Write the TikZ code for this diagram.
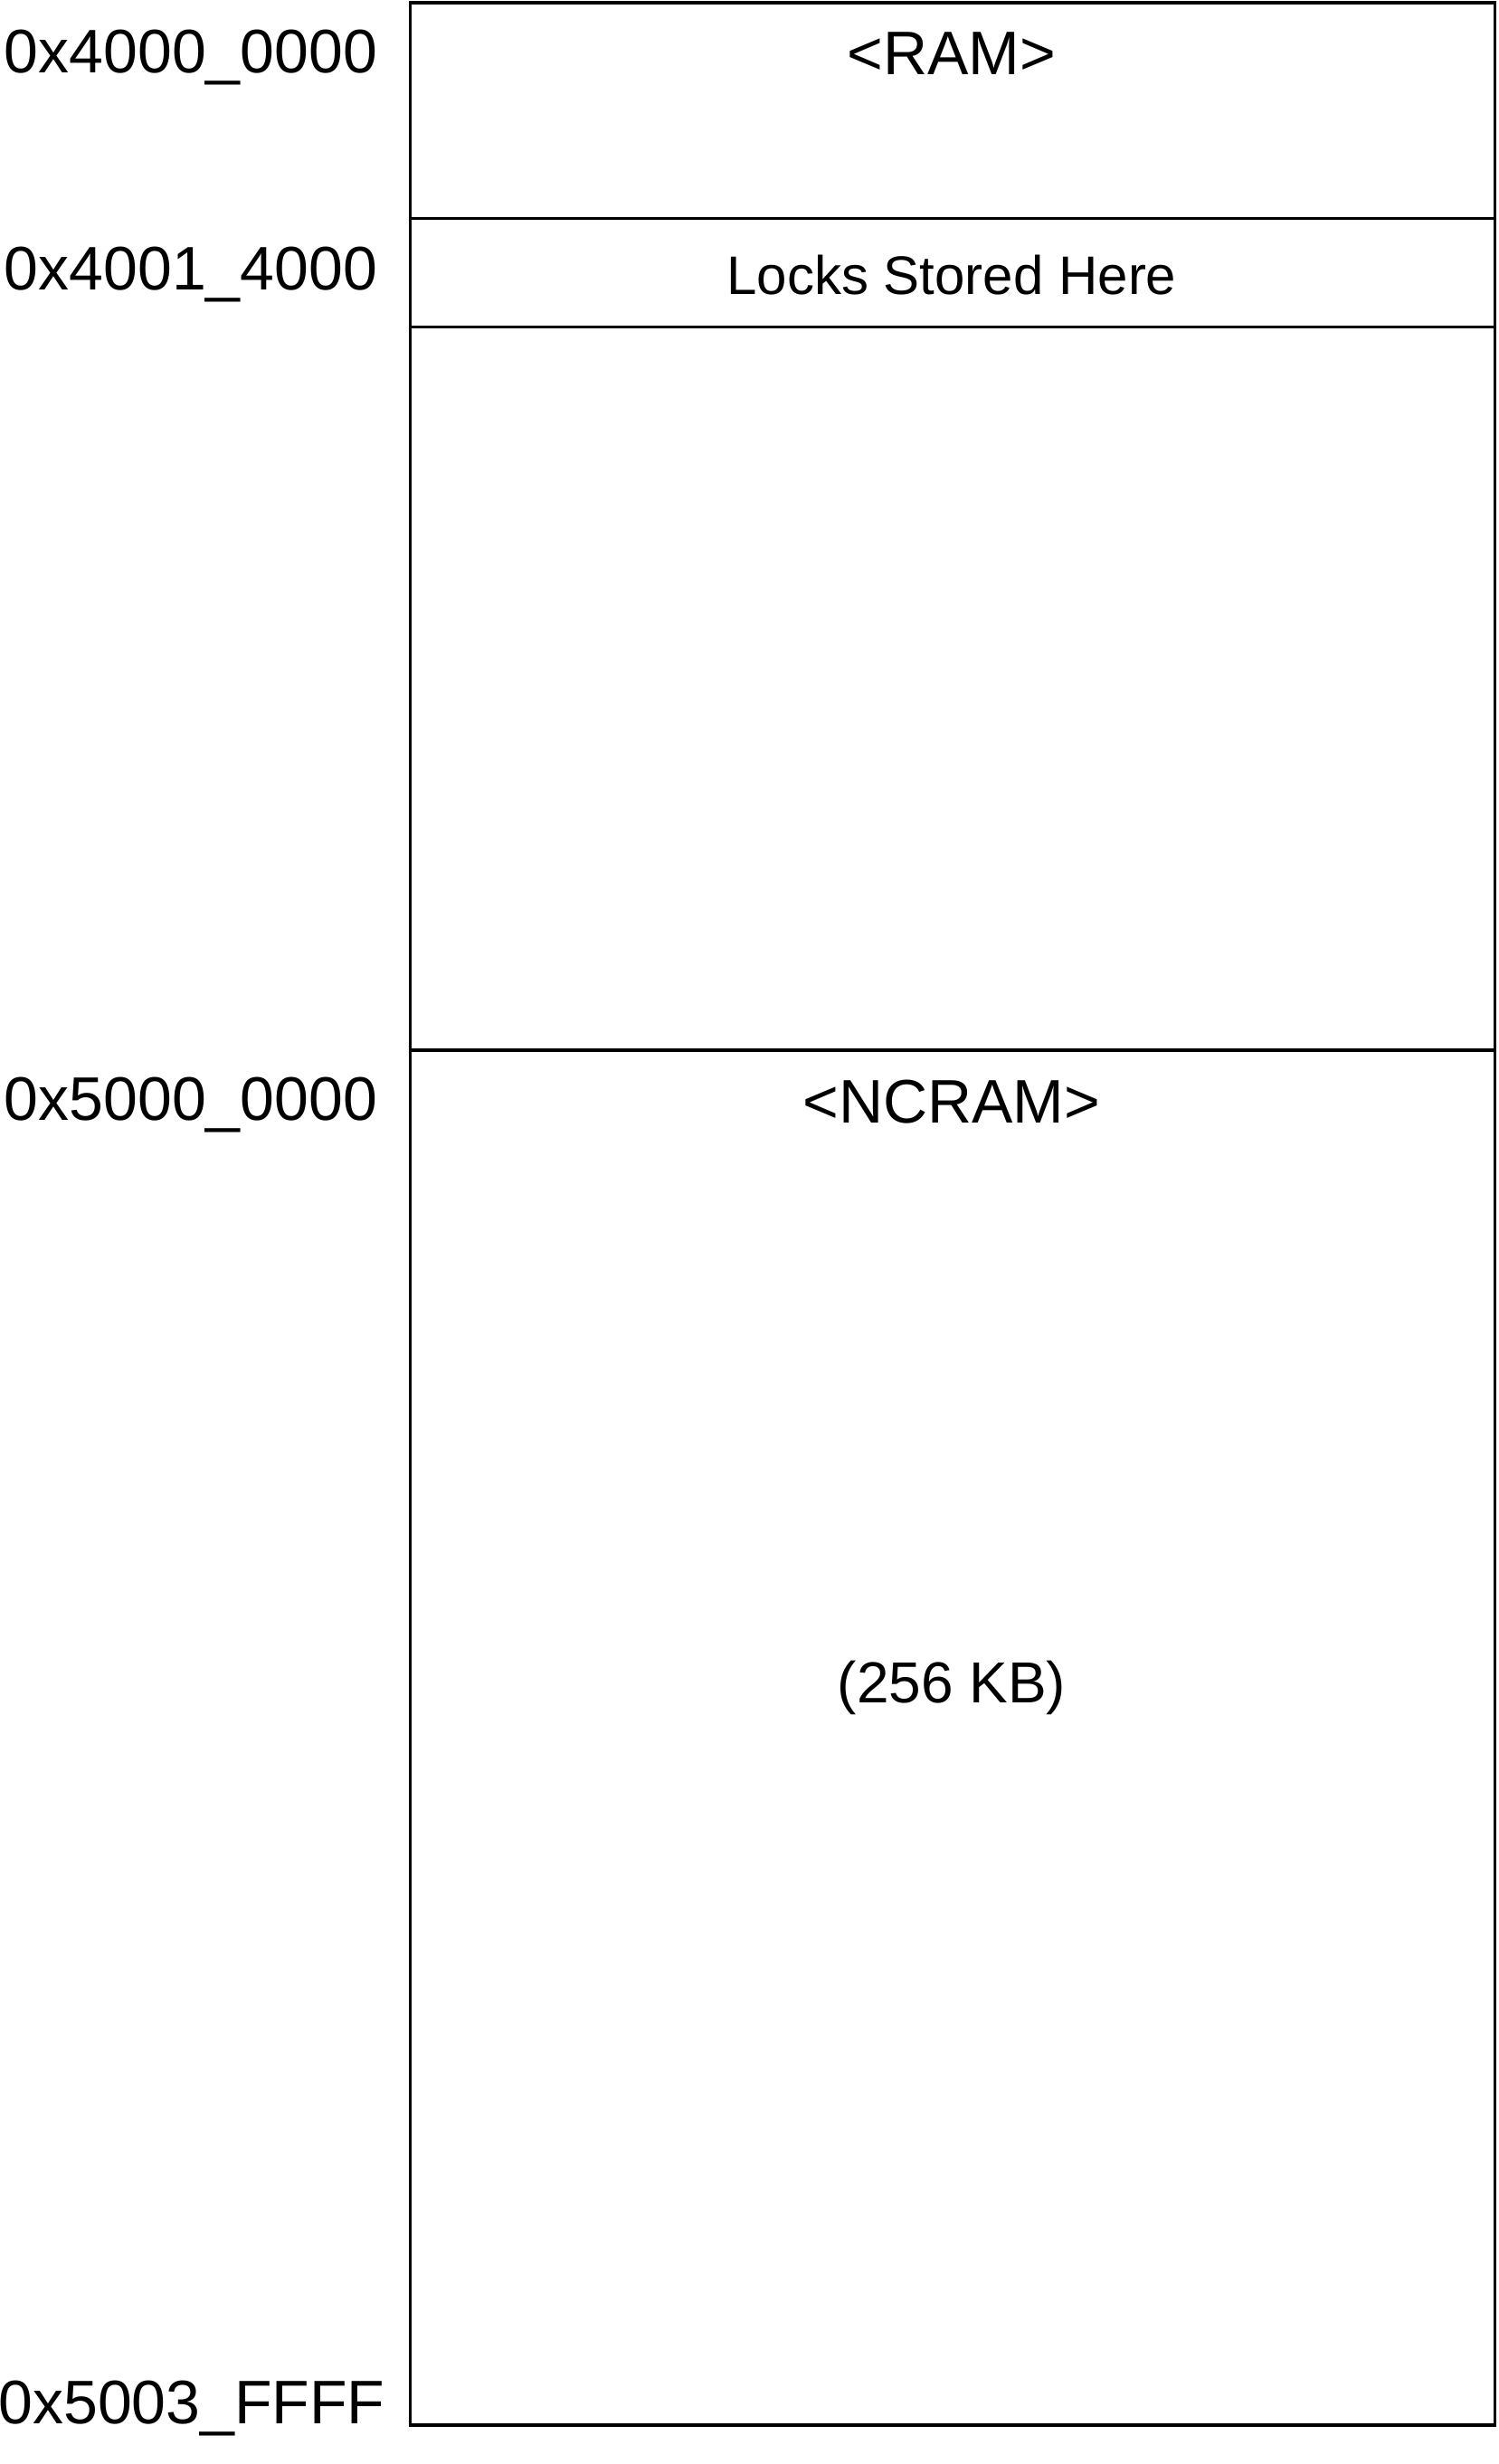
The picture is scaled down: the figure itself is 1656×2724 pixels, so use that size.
\documentclass[tikz,border=0pt]{standalone}
\usepackage{fontspec}
\setmainfont{Liberation Sans}
\begin{document}
\begin{tikzpicture}[x=0.5pt,y=-0.5pt,
  region/.style={draw=black,line width=1.75pt,fill=none,inner sep=0pt,outer sep=0pt,minimum width=599.5pt,anchor=north west},
  addr/.style={font=\fontsize{34}{40}\selectfont,inner sep=0pt,anchor=center},
  big/.style={font=\fontsize{34}{40}\selectfont,inner sep=0pt,anchor=center},
  mid/.style={font=\fontsize{32}{38}\selectfont,inner sep=0pt,anchor=center},
  small/.style={font=\fontsize{30}{36}\selectfont,inner sep=0pt,anchor=center}]
\useasboundingbox (0,0) rectangle (1656,2724);
\node[region,minimum height=119.25pt] (ram) at (453.5,3) {};
\node[region,minimum height=60pt] (locks) at (453.5,241.5) {};
\node[region,minimum height=399.75pt] (free) at (453.5,361.5) {};
\node[region,minimum height=760pt] (ncram) at (453.5,1161) {};
\node[big] (ramlbl) at (1052,59) {<RAM>};
\node[small] (lockslbl) at (1052,304) {Locks Stored Here};
\node[big] (ncramlbl) at (1052,1218) {<NCRAM>};
\node[mid] (size) at (1052,1866) {(256 KB)};
\node[addr] (a1) at (211,64) {0x4000\_0000};
\node[addr] (a2) at (211,304) {0x4001\_4000};
\node[addr] (a3) at (211,1222) {0x5000\_0000};
\node[addr] (a4) at (212,2662) {0x5003\_FFFF};
\end{tikzpicture}
\end{document}
